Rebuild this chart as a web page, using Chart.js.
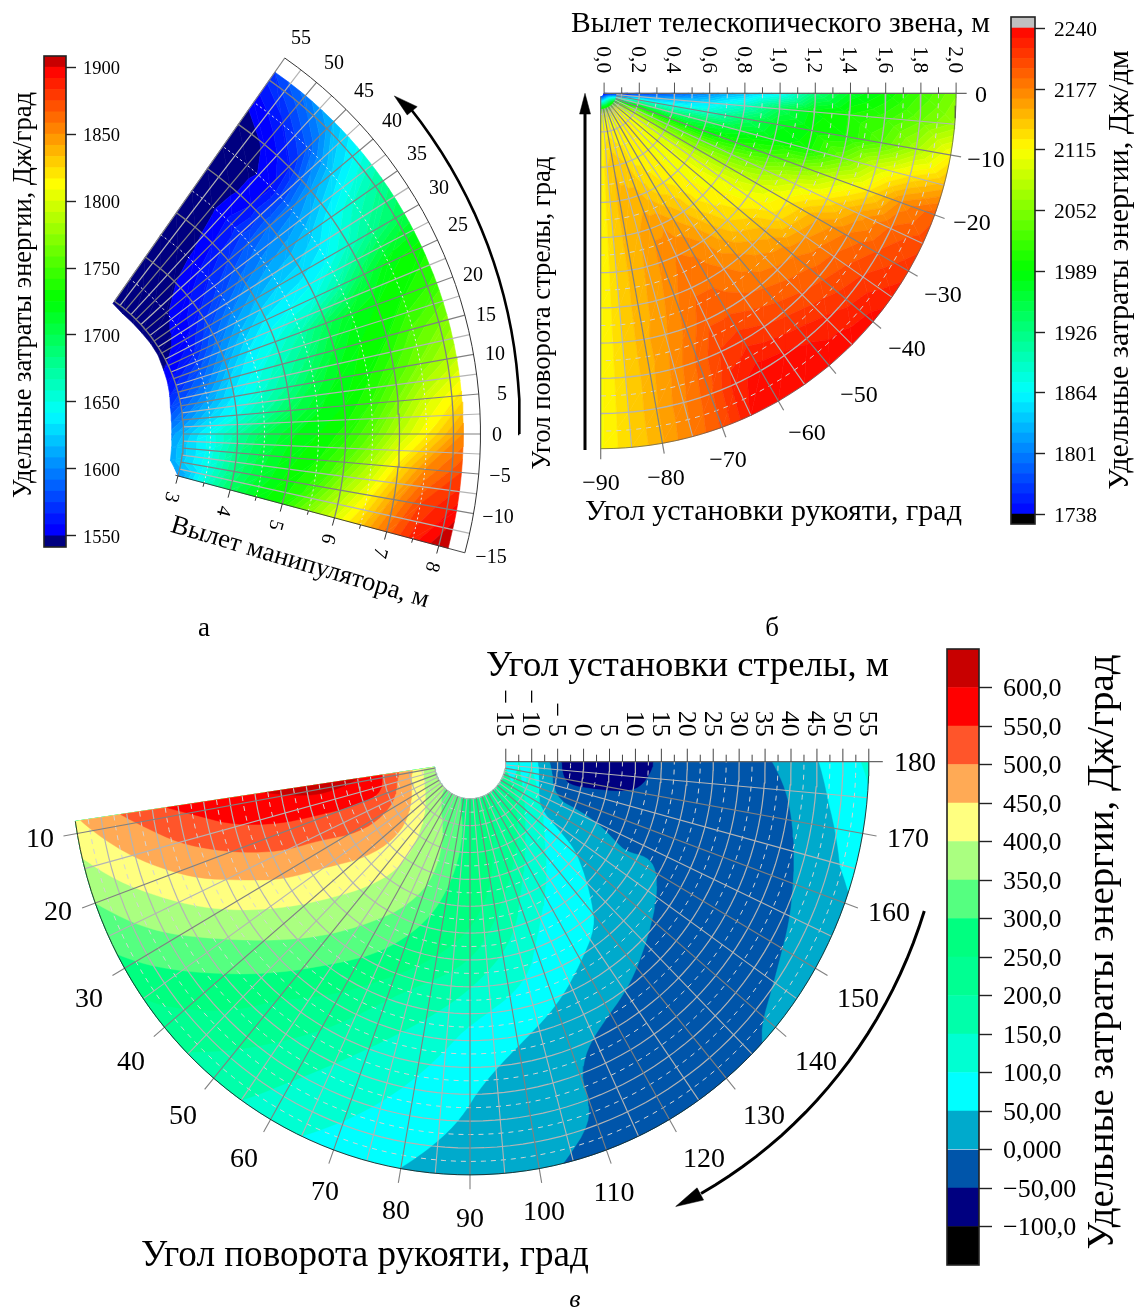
<!DOCTYPE html>
<html>
<head>
<meta charset="utf-8">
<title>Удельные затраты энергии</title>
<script src="https://cdn.jsdelivr.net/npm/chart.js@4/dist/chart.umd.min.js"></script>
<style>
  html, body { margin: 0; background: #fff; }
  #page { position: relative; width: 1137px; height: 1310px; overflow: hidden; }
  canvas { position: absolute; }
</style>
</head>
<body>
<div id="page"></div>
<script>
const FONT = '"Liberation Serif", "Times New Roman", serif';

// panel a: boom angle (columns) against manipulator reach (rows)
const anglesA = [-15, -10, -5, 0, 5, 10, 15, 20, 25, 30, 35, 40, 45, 50, 55];
const innerEdgeA = [3.0, 2.8, 2.79, 2.78, 2.79, 2.8, 2.84, 2.87, 2.89, 2.92, 2.92, 2.91, 2.91, 2.91, 2.95];
const reachA = [3, 3.5, 4, 4.5, 5, 5.5, 6, 6.5, 7, 7.5, 8.18];
const energyA = [
  [1605, 1655, 1695, 1720, 1735, 1770, 1800, 1830, 1862, 1888, 1912],
  [1612, 1648, 1685, 1710, 1728, 1745, 1780, 1810, 1845, 1875, 1895],
  [1612, 1645, 1680, 1705, 1722, 1733, 1755, 1785, 1820, 1850, 1875],
  [1605, 1645, 1672, 1698, 1715, 1725, 1737, 1760, 1790, 1815, 1850],
  [1590, 1625, 1648, 1672, 1697, 1715, 1725, 1742, 1768, 1795, 1820],
  [1575, 1610, 1635, 1655, 1677, 1702, 1720, 1730, 1748, 1768, 1790],
  [1565, 1595, 1625, 1645, 1665, 1685, 1710, 1725, 1732, 1752, 1770],
  [1555, 1582, 1610, 1635, 1650, 1668, 1695, 1715, 1725, 1732, 1745],
  [1549, 1565, 1595, 1618, 1635, 1642, 1650, 1672, 1700, 1722, 1730],
  [1545, 1555, 1580, 1600, 1615, 1625, 1630, 1640, 1660, 1680, 1700],
  [1544, 1552, 1565, 1580, 1595, 1605, 1612, 1622, 1640, 1658, 1678],
  [1544, 1549, 1556, 1565, 1575, 1585, 1592, 1597, 1610, 1625, 1645],
  [1543, 1545, 1549, 1553, 1558, 1562, 1558, 1555, 1565, 1585, 1618],
  [1540, 1541, 1542, 1543, 1545, 1548, 1546, 1546, 1551, 1565, 1595],
  [1535, 1537, 1538, 1540, 1541, 1541, 1542, 1544, 1546, 1552, 1575]
];
const reachTicksA = [3, 4, 5, 6, 7, 8];
const barTicksA = [1550, 1600, 1650, 1700, 1750, 1800, 1850, 1900];

// panel b: handle angle (columns) against telescopic link extension (rows)
const anglesB = [0, -5, -10, -15, -20, -25, -30, -35, -40, -45, -50, -55, -60, -65, -70, -75, -80, -85, -90];
const extensionB = [0, 0.1, 0.2, 0.4, 0.6, 0.8, 1.0, 1.2, 1.4, 1.6, 1.8, 2.0];
const energyB = [
  [1738, 1742, 1760, 1780, 1805, 1830, 1860, 1930, 1970, 1990, 2020, 2050],
  [1738, 1775, 1810, 1830, 1850, 1890, 1945, 1985, 2000, 2015, 2040, 2065],
  [1738, 1830, 1880, 1880, 1890, 1935, 1975, 1990, 2000, 2030, 2070, 2115],
  [1740, 1890, 1940, 1930, 1950, 1970, 1985, 1995, 2040, 2090, 2125, 2150],
  [1745, 1950, 2000, 1985, 1985, 2000, 2020, 2050, 2090, 2125, 2170, 2195],
  [1750, 2000, 2040, 2025, 2030, 2040, 2060, 2095, 2125, 2160, 2190, 2205],
  [1755, 2040, 2080, 2060, 2065, 2075, 2090, 2120, 2155, 2180, 2200, 2215],
  [1760, 2070, 2100, 2090, 2095, 2100, 2110, 2130, 2165, 2190, 2210, 2225],
  [1765, 2095, 2110, 2105, 2108, 2112, 2125, 2150, 2175, 2195, 2215, 2235],
  [1770, 2105, 2115, 2110, 2112, 2118, 2135, 2160, 2180, 2200, 2222, 2238],
  [1775, 2110, 2118, 2115, 2118, 2130, 2150, 2170, 2185, 2205, 2228, 2239],
  [1780, 2110, 2120, 2118, 2125, 2145, 2165, 2178, 2190, 2210, 2232, 2239],
  [1780, 2105, 2118, 2120, 2130, 2155, 2175, 2185, 2195, 2215, 2235, 2238],
  [1780, 2100, 2115, 2122, 2140, 2165, 2178, 2185, 2195, 2210, 2225, 2230],
  [1780, 2100, 2115, 2135, 2150, 2165, 2170, 2175, 2180, 2190, 2195, 2200],
  [1780, 2100, 2118, 2140, 2150, 2155, 2158, 2160, 2165, 2170, 2175, 2178],
  [1780, 2100, 2122, 2145, 2150, 2150, 2150, 2152, 2153, 2153, 2155, 2155],
  [1780, 2095, 2120, 2135, 2135, 2135, 2135, 2135, 2135, 2135, 2135, 2135],
  [1780, 2090, 2112, 2112, 2112, 2112, 2112, 2112, 2112, 2112, 2112, 2112]
];
const extensionTicksB = ['0,0', '0,2', '0,4', '0,6', '0,8', '1,0', '1,2', '1,4', '1,6', '1,8', '2,0'];
const angleTicksB = [0, -10, -20, -30, -40, -50, -60, -70, -80, -90];
const barTicksB = [1738, 1801, 1864, 1926, 1989, 2052, 2115, 2177, 2240];

// panel c: contour lines, as [handle angle, boom angle]
const contour600 = [[8.3, 18], [10.4, 12.7], [12, 7.7], [10.6, 2.3], [8.3, 0]];
const contour550 = [[8.3, 37.2], [11, 31.1], [13.7, 26.4], [15.9, 20.9], [17.7, 15.2], [18.8, 8.7], [20.3, 2.1], [19.7, -2.8], [15.2, -4.4], [8.3, -4.8]];
const contour500 = [[8.3, 46.2], [10.8, 42.2], [15.1, 36], [18.3, 30.2], [22, 23.2], [24.9, 17], [26.7, 10.5], [31.5, 3], [31.3, -2.3], [25.5, -6.2], [8.3, -8.1]];
const contour450 = [[8.3, 54], [11, 50.8], [15.2, 45.4], [19, 39.9], [22.6, 34.5], [26.3, 27.6], [31.2, 20.2], [35.2, 11.9], [41.5, 4.7], [44.5, -1.2], [42.2, -5.8], [30.6, -9.2], [8.3, -10.7]];
const contour400 = [[13.5, 55], [17.9, 49.7], [22.8, 42.9], [27.4, 36.7], [31.9, 30.3], [37.3, 22.6], [43.6, 14.5], [49.4, 8.7], [54.9, 2.7], [55.8, -3.6], [48.8, -9.2], [32, -12], [8.3, -12.9]];
const contour350 = [[20, 55], [24.8, 49.6], [28.6, 44.7], [33.5, 37.5], [39.3, 30.4], [47.1, 22.5], [56.4, 14.1], [66.3, 6.8], [71.7, 0.6], [71.2, -5.9], [64.5, -9.9], [49.8, -13.4], [45, -15]];
const contour300 = [[27.8, 55], [31.2, 51], [35.5, 45.2], [40.8, 38.4], [48.7, 29.7], [54.9, 23.9], [64.5, 16.9], [74.2, 8.7], [78.4, 3.7], [83, -3.5], [83.9, -9.8], [77, -14.6], [75, -15]];
const contour250 = [[35, 55], [38, 52.2], [46.1, 42.1], [49.9, 36], [55.3, 31.3], [64.4, 24.1], [71, 19.7], [80.8, 14.2], [90, 9.1], [99.4, 1.7], [106.3, -6.8], [118.6, -13.8], [125, -15]];
const contour200 = [[44.6, 55], [49.6, 48.5], [55.4, 41], [62.7, 32.8], [67.7, 27.4], [74.6, 21.7], [90, 15], [97, 9.6], [105.8, 2.9], [117.9, -3.4], [134.2, -9.4], [156.5, -13.5], [170, -15]];
const contour150 = [[55, 55], [60.8, 45.2], [68.9, 35.5], [78, 27.8], [90, 20.2], [104.3, 11.7], [113.7, 2.1], [132.9, -7.2], [160.8, -11.7], [180, -12.5]];
const contour100 = [[65, 55], [69.5, 49.8], [76.8, 41.4], [84.5, 32.3], [90, 26.7], [105.2, 20.1], [112, 12.4], [123.4, 4.4], [137.5, -3.2], [164.6, -9.3], [180, -10]];
const contour50Left = [[180, -8.8], [153.8, -7.3], [146, -4.9], [142.8, 0.6], [141, 4.1], [137.9, 7.1], [131.8, 13.3], [128.2, 17.1], [119.6, 21.1], [111.4, 25.7], [99.6, 31.8], [92.4, 37.9], [88.3, 44.8], [84.8, 49.3], [79.9, 55]];
const contour50Right = [[161.5, 55], [164.7, 52], [173.7, 47.6], [180, 45.3]];
const contour0Left = [[180, -6.5], [158, -4.6], [156.5, 1.9], [154.4, 6.5], [152, 10.1], [151.1, 12.6], [152.7, 16.5], [150.8, 19.3], [145.2, 22], [135.8, 25.6], [126.7, 29.7], [117.8, 33], [112.8, 36.2], [110.2, 40.5], [110.1, 44.4], [109, 49.2], [103.6, 55]];
const contour0Right = [[137, 55], [139.2, 52.4], [143.4, 50.2], [148.7, 48], [154, 46.4], [160.6, 44.1], [169.6, 41.2], [175.1, 39.1], [180, 36.3]];
const contourMinus50 = [[180, -4.2], [171.3, -3.7], [167.5, -2.2], [168, 1.8], [169.2, 7.5], [171.5, 11.2], [177.5, 13.2], [180, 13.4]];
const cornerC = [[180, 53.5], [177, 55], [180, 55]];
const angleTicksC = [10, 20, 30, 40, 50, 60, 70, 80, 90, 100, 110, 120, 130, 140, 150, 160, 170, 180];
const barTicksC = [-100, -50, 0, 50, 100, 150, 200, 250, 300, 350, 400, 450, 500, 550, 600];
const barLabelsC = ['−100,0', '−50,00', '0,000', '50,00', '100,0', '150,0', '200,0', '250,0', '300,0', '350,0', '400,0', '450,0', '500,0', '550,0', '600,0'];
const barEdgesC = [-150, -100, -50, 0, 50, 100, 150, 200, 250, 300, 350, 400, 450, 500, 550, 600, 650];
const barColorsC = ['#000000', '#000080', '#0055aa', '#00aacc', '#00ffff', '#00ffd2', '#00ffaa', '#00ff92', '#00ff80',
  '#55ff80', '#aaff80', '#ffff80', '#ffaa55', '#ff552a', '#ff0000', '#c80000'];

// where the angle labels sit on the page
const labelPlacesA = [[491, 556], [498, 516], [500, 475], [497, 434], [502, 393], [495, 353], [486, 314], [473, 274], [458, 224], [439, 187], [417, 153], [392, 120], [364, 90], [334, 62], [301, 37]];
const labelPlacesB = [[981, 94], [986, 159], [972, 222], [943, 294], [907, 348], [859, 394], [807, 432], [728, 459], [666, 477], [601, 482]];
const labelPlacesC = [[40, 838], [58, 911], [89, 998], [131, 1061], [183, 1115], [244, 1158], [325, 1191], [396, 1210], [470, 1218], [544, 1211], [614, 1192], [704, 1158], [764, 1115], [816, 1061], [858, 998], [889, 912], [908, 838], [915, 762]];

const rad = d => d * Math.PI / 180;
const polarA = (a, r) => ({ x: r * Math.cos(rad(a)), y: r * Math.sin(rad(a)) });
const polarB = (a, r) => ({ x: (r + 0.0193) * Math.cos(rad(a)), y: (r + 0.0193) * Math.sin(rad(a)) });
const polarC = (a, b) => ({ x: -(b + 21.9) * Math.cos(rad(a)), y: -(b + 21.9) * Math.sin(rad(a)) });

function jet(t) {
  t = Math.max(0, Math.min(1, t)) * 4;
  const stops = [[0, 0, 255], [0, 255, 255], [0, 255, 0], [255, 255, 0], [255, 0, 0]];
  const i = Math.min(3, Math.floor(t));
  const f = t - i;
  const c = stops[i].map((v, k) => Math.round(v + (stops[i + 1][k] - v) * f));
  return `rgb(${c[0]},${c[1]},${c[2]})`;
}

// colour levels of the two continuous panels
function levels(first, step, count) {
  const edges = [];
  for (let i = 0; i <= count; i++) edges.push(first + step * i);
  return edges;
}
const edgesA = levels(1550, 350 / 42, 42);
const edgesB = levels(1738, 502 / 48, 48);
const colourA = v => v < 1550 ? '#000080' : v >= 1900 ? '#c80000' : jet((v - 1555) / (1898 - 1555));
const colourB = v => v < 1738 ? '#000000' : v >= 2240 ? '#c0c0c0' : jet((v - 1738) / (2240 - 1738));

function polygon(points, colour, width = 0.6) {
  const data = points.concat([points[0]]);
  return { data, showLine: true, fill: 'shape', backgroundColor: colour, borderColor: colour, borderWidth: width, parsing: false, normalized: true };
}
function line(points, colour, width = 1, dash = []) {
  return { data: points, showLine: true, fill: false, borderColor: colour, borderWidth: width, borderDash: dash, parsing: false, normalized: true };
}

// cut a triangle down to the part between two levels
function clipTriangle(tri, lo, hi) {
  const cut = (poly, keep, level) => {
    const out = [];
    poly.forEach((p, i) => {
      const q = poly[(i + 1) % poly.length];
      const pIn = keep(p.v), qIn = keep(q.v);
      if (pIn) out.push(p);
      if (pIn !== qIn) {
        const f = (level - p.v) / (q.v - p.v);
        out.push({ a: p.a + (q.a - p.a) * f, r: p.r + (q.r - p.r) * f, v: level });
      }
    });
    return out;
  };
  let poly = cut(tri, v => v >= lo, lo);
  if (poly.length) poly = cut(poly, v => v <= hi, hi);
  return poly;
}

function bandMarks(angles, radiusAt, values, edges, colourOf, polar) {
  const marks = [];
  const all = [-1e6].concat(edges, [1e6]);
  const node = (i, j) => ({ a: angles[i], r: radiusAt(i, j), v: values[i][j] });
  for (let i = 0; i < angles.length - 1; i++) {
    for (let j = 0; j < values[0].length - 1; j++) {
      const tris = [[node(i, j), node(i + 1, j), node(i + 1, j + 1)], [node(i, j), node(i + 1, j + 1), node(i, j + 1)]];
      for (const tri of tris) {
        const vs = tri.map(p => p.v);
        const min = Math.min(...vs), max = Math.max(...vs);
        for (let k = 0; k < all.length - 1; k++) {
          if (max < all[k] || min > all[k + 1]) continue;
          const poly = clipTriangle(tri, all[k], all[k + 1]);
          if (poly.length < 3) continue;
          marks.push(polygon(poly.map(p => polar(p.a, p.r)), colourOf((all[k] + all[k + 1]) / 2)));
        }
      }
    }
  }
  return marks;
}

function range(from, to, step) {
  const out = [];
  for (let v = from; v <= to + 1e-9; v += step) out.push(Math.round(v * 1000) / 1000);
  return out;
}
function arc(polar, r, a0, a1) {
  const n = Math.ceil(Math.abs(a1 - a0) / 2);
  return range(0, n, 1).map(i => polar(a0 + (a1 - a0) * i / n, r));
}
function radial(polar, a, r0, r1) {
  return [polar(a, r0), polar(a, r1)];
}

// soften the corners of a contour, keeping its two ends where they are
function smooth(path) {
  for (let n = 0; n < 2; n++) {
    const out = [path[0]];
    for (let i = 0; i < path.length - 1; i++) {
      const [p, q] = [path[i], path[i + 1]];
      out.push([p[0] * 0.75 + q[0] * 0.25, p[1] * 0.75 + q[1] * 0.25], [p[0] * 0.25 + q[0] * 0.75, p[1] * 0.25 + q[1] * 0.75]);
    }
    out.push(path[path.length - 1]);
    path = out;
  }
  return path;
}
// walk a closed outline in angle / boom space so that its edges follow the arcs
function outline(path) {
  const out = [];
  path.forEach((p, i) => {
    const q = path[(i + 1) % path.length];
    const n = Math.max(1, Math.ceil(Math.abs(q[0] - p[0]) / 2));
    for (let k = 0; k < n; k++) out.push(polarC(p[0] + (q[0] - p[0]) * k / n, p[1] + (q[1] - p[1]) * k / n));
  });
  return out;
}

function textPlugin(items, box) {
  return {
    id: 'panelText',
    afterDraw(chart) {
      const ctx = chart.ctx;
      for (const t of items) {
        let x, y;
        if (t.at) {
          x = chart.scales.x.getPixelForValue(t.at.x) + (t.dx || 0);
          y = chart.scales.y.getPixelForValue(t.at.y) + (t.dy || 0);
        } else {
          x = t.px - box.left;
          y = t.py - box.top;
        }
        let size = t.size || 20;
        const style = t.italic ? 'italic ' : '';
        ctx.save();
        ctx.font = `${style}${size}px ${FONT}`;
        if (t.fit) {
          size = size * t.fit / ctx.measureText(t.text).width;
          ctx.font = `${style}${size}px ${FONT}`;
        }
        ctx.fillStyle = '#000';
        ctx.textAlign = t.align || 'center';
        ctx.textBaseline = 'middle';
        ctx.translate(x, y);
        ctx.rotate(rad(t.rot || 0));
        // digits sit above the middle baseline of this font
        ctx.fillText(t.text, 0, size * 0.07);
        ctx.restore();
      }
    }
  };
}

function addCanvas(box) {
  const c = document.createElement('canvas');
  c.width = box.w;
  c.height = box.h;
  c.style.left = box.left + 'px';
  c.style.top = box.top + 'px';
  c.style.width = box.w + 'px';
  c.style.height = box.h + 'px';
  document.getElementById('page').appendChild(c);
  return c;
}

// polar panel: hidden x / y scales fitted to the box, everything drawn as scatter datasets
function polarChart(box, origin, marks, texts) {
  new Chart(addCanvas(box), {
    type: 'scatter',
    data: { datasets: marks.slice().reverse() },
    options: {
      responsive: false,
      animation: false,
      events: [],
      layout: { padding: 0 },
      elements: { point: { radius: 0 }, line: { tension: 0 } },
      plugins: { legend: { display: false }, tooltip: { enabled: false } },
      scales: {
        x: { type: 'linear', display: false, min: (box.left - origin.cx) / origin.kx, max: (box.left + box.w - origin.cx) / origin.kx },
        y: { type: 'linear', display: false, max: (origin.cy - box.top) / origin.ky, min: (origin.cy - box.top - box.h) / origin.ky }
      }
    },
    plugins: [textPlugin(texts, box)]
  });
}

// colour bar: floating bars against a real linear axis
function colourBar(box, barW, min, max, edges, colours, ticks, labels, fontSize, tickLen, pad, texts) {
  const datasets = colours.map((c, i) => ({ data: [[edges[i], edges[i + 1]]], backgroundColor: c, borderWidth: 0, grouped: false, barPercentage: 1, categoryPercentage: 1 }));
  const frame = {
    id: 'barFrame',
    afterDatasetsDraw(chart) {
      const { left, right, top, bottom } = chart.chartArea;
      chart.ctx.save();
      chart.ctx.strokeStyle = '#222';
      chart.ctx.lineWidth = 1.6;
      chart.ctx.strokeRect(left, top, right - left, bottom - top);
      chart.ctx.restore();
    }
  };
  new Chart(addCanvas(box), {
    type: 'bar',
    data: { labels: [''], datasets },
    options: {
      responsive: false,
      animation: false,
      events: [],
      layout: { padding: { left: 2, top: 2, bottom: 2, right: 0 } },
      plugins: { legend: { display: false }, tooltip: { enabled: false } },
      scales: {
        x: { display: false },
        y: {
          position: 'right',
          min,
          max,
          border: { display: false },
          grid: { drawOnChartArea: false, drawTicks: true, tickLength: tickLen, tickColor: '#222', tickWidth: 1.4 },
          afterBuildTicks: s => { s.ticks = ticks.map(value => ({ value })); },
          afterFit: s => { s.width = box.w - 2 - barW; s.paddingTop = 0; s.paddingBottom = 0; },
          ticks: {
            autoSkip: false,
            color: '#000',
            padding: pad,
            labelOffset: 2,
            font: { family: FONT, size: fontSize },
            callback: (v, i) => labels[i]
          }
        }
      }
    },
    plugins: [frame, textPlugin(texts, box)]
  });
}

const DARK = '#808080', LIGHT = '#b4b4b4', DASH = '#d4d4d4';

// ---------- panel a ----------
{
  const k = 54;
  const marks = bandMarks(anglesA, (i, j) => j === 0 ? innerEdgeA[i] : reachA[j], energyA, edgesA, colourA, polarA);
  range(3.5, 7.5, 1).forEach(r => marks.push(line(arc(polarA, r, -15, 55), '#e6e6e6', 1, [2, 3])));
  range(-12.5, 52.5, 5).forEach(a => marks.push(line(radial(polarA, a, 3, 8.5), LIGHT, 1.2)));
  range(-10, 55, 5).forEach(a => marks.push(line(radial(polarA, a, 3, 8.5), DARK, 1.2)));
  reachTicksA.forEach(r => marks.push(line(arc(polarA, r, -15, 55), DARK, 1.3)));
  marks.push(line(arc(polarA, 8.5, -15, 55), '#333', 1));
  marks.push(line(radial(polarA, -15, 2.95, 8.5), '#333', 0.9));
  // reach ticks hang off the -15 degree edge
  const nx = -Math.sin(rad(15)) / k, ny = -Math.cos(rad(15)) / k;
  range(3, 8, 0.5).forEach(r => {
    const p = polarA(-15, r), len = Number.isInteger(r) ? 8 : 4;
    marks.push(line([p, { x: p.x + nx * len, y: p.y + ny * len }], '#333', 1));
  });
  // rotation direction arrow, drifting slightly outward towards its head
  marks.push(line(range(0, 40, 2).map(a => polarA(a, 9.22 + a * 0.0043)), '#000', 2.6));
  marks.push(polygon([polarA(42.2, 9.32), polarA(39.6, 9.27), polarA(39.6, 9.51)], '#000', 0.5));
  const texts = [
    { text: 'Удельные затраты энергии, Дж/град', px: 22, py: 295, rot: -90, fit: 406 },
    { text: 'Угол поворота стрелы, град', px: 541, py: 313, rot: -90, fit: 313 },
    { text: 'Вылет манипулятора, м', px: 300.5, py: 561, rot: 16.5, fit: 268 },
    { text: 'а', px: 204, py: 627, size: 27 }
  ];
  anglesA.forEach((a, i) => texts.push({ text: String(a).replace('-', '−'), px: labelPlacesA[i][0], py: labelPlacesA[i][1], size: 20 }));
  reachTicksA.forEach(r => texts.push({ text: String(r), at: polarA(-15, r), dx: -5.7, dy: 21.3, rot: 105, size: 20 }));
  polarChart({ left: 0, top: 0, w: 565, h: 640 }, { cx: 21.5, cy: 434, kx: k, ky: k }, marks, texts);
  colourBar({ left: 42, top: 54, w: 100, h: 495 }, 22, 1550 - 350 / 42, 1900 + 350 / 42,
    [1500].concat(edgesA, [1950]), [1500].concat(edgesA).map((e, i, arr) => colourA(i === 0 ? 1500 : i === arr.length - 1 ? 1950 : e + 350 / 84)),
    barTicksA, barTicksA.map(String), 18.5, 10, 7, []);
}

// ---------- panel b ----------
{
  const k = 176;
  const marks = bandMarks(anglesB, (i, j) => extensionB[j], energyB, edgesB, colourB, polarB);
  range(0.1, 1.9, 0.2).forEach(r => marks.push(line(arc(polarB, r, 0, -90), DASH, 1, [5, 5])));
  range(-85, -5, 10).forEach(a => marks.push(line(radial(polarB, a, 0.07, 2), LIGHT, 1.1)));
  range(0.2, 1.8, 0.2).forEach(r => marks.push(line(arc(polarB, r, 0, -90), LIGHT, 1.3)));
  range(-80, -10, 10).forEach(a => marks.push(line(radial(polarB, a, 0.07, 2.06), DARK, 1.2)));
  marks.push(line(arc(polarB, 2, 0, -90), '#555', 0.7));
  marks.push(line(radial(polarB, 0, 0, 2.06), '#666', 1.2));
  marks.push(line(radial(polarB, -90, 0, 2.06), '#777', 1.2));
  range(0, 2, 0.1).forEach((r, i) => {
    const p = polarB(0, r), len = i % 2 === 0 ? 10.7 : 6;
    marks.push(line([p, { x: p.x, y: p.y + len / k }], '#555', 1));
  });
  // arrow up the -90 degree side
  marks.push(line([{ x: -0.0892, y: -2.027 }, { x: -0.0892, y: -0.11 }], '#000', 3));
  marks.push(polygon([{ x: -0.0892, y: 0 }, { x: -0.12, y: -0.118 }, { x: -0.058, y: -0.118 }], '#000', 0.5));
  const texts = [
    { text: 'Вылет телескопического звена, м', px: 780.5, py: 22, fit: 419 },
    { text: 'Угол установки рукояти, град', px: 773.5, py: 510, fit: 377 },
    { text: 'б', px: 772, py: 627, size: 27 }
  ];
  angleTicksB.forEach((a, i) => texts.push({ text: String(a).replace('-', '−'), px: labelPlacesB[i][0], py: labelPlacesB[i][1], size: 24 }));
  extensionTicksB.forEach((t, i) => texts.push({ text: t, at: polarB(0, i * 0.2), dy: -33.5, rot: 90, size: 21.5 }));
  polarChart({ left: 540, top: 0, w: 470, h: 640 }, { cx: 600.7, cy: 93.3, kx: k, ky: k }, marks, texts);
  colourBar({ left: 1009, top: 15, w: 128, h: 511 }, 24, 1738 - 10.3, 2240 + 11.4,
    [1600].concat(edgesB, [2300]), [1600].concat(edgesB).map((e, i, arr) => colourB(i === 0 ? 1600 : i === arr.length - 1 ? 2300 : e + 502 / 96)),
    barTicksB, barTicksB.map(String), 21.5, 10, 9,
    [{ text: 'Удельные затраты энергии, Дж/дм', px: 1118, py: 270, rot: -90, fit: 440 }]);
}

// ---------- panel c ----------
{
  const kx = 5.186, ky = 5.186 * 1.036, aMin = 8.3;
  const colourOf = low => barColorsC[barEdgesC.indexOf(low)];
  const closeHigh = c => smooth(c).concat([[aMin, -15], [aMin, 55]]);
  const marks = [];
  marks.push(polygon(outline([[aMin, -15], [180, -15], [180, 55], [aMin, 55]]), colourOf(50), 0.4));
  [[contour100, 100], [contour150, 150], [contour200, 200], [contour250, 250], [contour300, 300], [contour350, 350], [contour400, 400]]
    .forEach(([c, low]) => marks.push(polygon(outline(closeHigh(c)), colourOf(low), 0.4)));
  [[contour450, 450], [contour500, 500], [contour550, 550], [contour600, 600]]
    .forEach(([c, low]) => marks.push(polygon(outline(smooth(c)), colourOf(low), 0.4)));
  marks.push(polygon(outline(smooth(contour50Left).concat(contour50Right)), colourOf(0), 0.4));
  marks.push(polygon(outline(smooth(contour0Left).concat(smooth(contour0Right))), colourOf(-50), 0.4));
  marks.push(polygon(outline(smooth(contourMinus50)), colourOf(-100), 0.4));
  marks.push(polygon(outline(cornerC), colourOf(100), 0.4));

  range(-12.5, 52.5, 5).forEach(b => marks.push(line(arc(polarC, b, aMin, 180), DASH, 1, [5, 5])));
  range(15, 175, 10).forEach(a => marks.push(line(radial(polarC, a, -15, 55), LIGHT, 1.1)));
  range(-15, 50, 5).forEach(b => marks.push(line(arc(polarC, b, aMin, 180), LIGHT, 1.2)));
  range(10, 170, 10).forEach(a => marks.push(line(radial(polarC, a, -15, 57.7), DARK, 1.1)));
  marks.push(line(arc(polarC, 55, aMin, 180), '#222', 0.9));
  marks.push(line(radial(polarC, 180, -15, 57.7), '#666', 1.2));
  range(-15, 55, 2.5).forEach((b, i) => {
    const p = polarC(180, b), len = i % 2 === 0 ? 13 : 7;
    marks.push(line([p, { x: p.x, y: p.y + len / ky }], '#444', 1));
  });
  // direction arrow under the sector
  marks.push(line(arc(polarC, 70, 162.4, 119), '#000', 3));
  marks.push(polygon([polarC(115.6, 69.9), polarC(118.9, 68.7), polarC(118.9, 71.3)], '#000', 0.5));

  const texts = [
    { text: 'Угол установки стрелы, м', px: 687.5, py: 664, fit: 403 },
    { text: 'Угол поворота рукояти, град', px: 365, py: 1254, fit: 448 },
    { text: 'в', px: 575, py: 1298, size: 26, italic: true }
  ];
  angleTicksC.forEach((a, i) => texts.push({ text: String(a), px: labelPlacesC[i][0], py: labelPlacesC[i][1], size: 28 }));
  range(-15, 55, 5).forEach(b => texts.push({
    text: b < 0 ? '− ' + (-b) : String(b), at: polarC(180, b), dy: -25, rot: 90, align: 'right', size: 26
  }));
  polarChart({ left: 0, top: 640, w: 945, h: 670 }, { cx: 470, cy: 761.7, kx, ky }, marks, texts);
  colourBar({ left: 945, top: 647, w: 192, h: 620 }, 32, -150, 650, barEdgesC, barColorsC, barTicksC, barLabelsC, 26, 13, 11,
    [{ text: 'Удельные затраты энергии, Дж/град', px: 1100, py: 952, rot: -90, fit: 595 }]);
}
</script>
</body>
</html>
